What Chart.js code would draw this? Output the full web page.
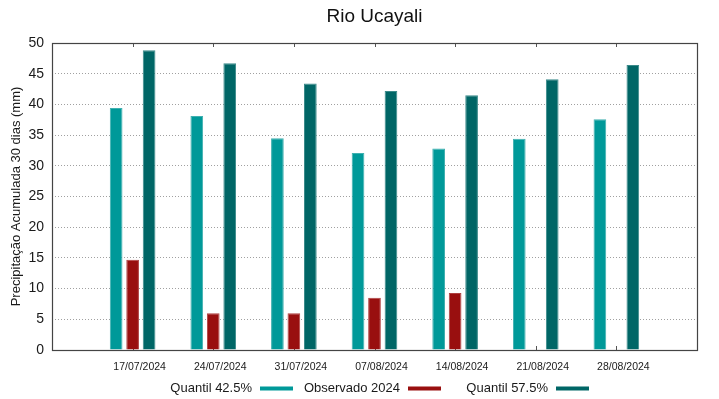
<!DOCTYPE html>
<html>
<head>
<meta charset="utf-8">
<script src="https://cdn.jsdelivr.net/npm/chart.js@4/dist/chart.umd.min.js"></script>
<style>
  html, body { margin: 0; padding: 0; background: #fff; }
  #wrap { width: 719px; height: 399px; position: relative; }
</style>
</head>
<body>
<div id="wrap"><canvas id="c"></canvas></div>
<script>
// ---- data ----
const chartTitle = "Rio Ucayali";
const yAxisTitle = "Precipitação Acumulada 30 dias (mm)";
const dates = ["17/07/2024", "24/07/2024", "31/07/2024", "07/08/2024", "14/08/2024", "21/08/2024", "28/08/2024"];
const quantil425 = [39.4, 38.1, 34.5, 32.1, 32.8, 34.4, 37.6];
const observado2024 = [14.7, 6.0, 6.0, 8.5, 9.3, null, null];
const quantil575 = [48.8, 46.7, 43.4, 42.2, 41.5, 44.1, 46.4];
const seriesNames = ["Quantil 42.5%", "Observado 2024", "Quantil 57.5%"];
const yTicks = [0, 5, 10, 15, 20, 25, 30, 35, 40, 45, 50];

const FONT = "'Liberation Sans', Arial, sans-serif";
const toPts = arr => arr.map((v, i) => ({ x: i, y: v }));

const frame = {
  id: 'frame',
  beforeDatasetsDraw(chart) {
    const { ctx, chartArea: a, scales: { x } } = chart;
    ctx.save();
    ctx.strokeStyle = '#555';
    ctx.lineWidth = 1;
    dates.forEach((d, i) => {
      const px = Math.round(x.getPixelForValue(i)) + 0.5;
      ctx.beginPath();
      ctx.moveTo(px, a.top); ctx.lineTo(px, a.top + 4);
      ctx.moveTo(px, a.bottom); ctx.lineTo(px, a.bottom - 4);
      ctx.stroke();
    });
    ctx.restore();
  },
  afterDatasetsDraw(chart) {
    const { ctx, chartArea: a } = chart;
    ctx.save();
    ctx.strokeStyle = '#444';
    ctx.lineWidth = 1.2;
    ctx.strokeRect(Math.round(a.left) + 0.5, Math.round(a.top) + 0.5,
                   Math.round(a.right - a.left), Math.round(a.bottom - a.top));
    ctx.restore();
  }
};

const legendBottom = {
  id: 'legendBottom',
  afterDraw(chart) {
    const { ctx } = chart;
    const firstBoxRight = 293, colStep = 148, boxW = 33, boxH = 4, gap = 8, yMid = 388.5;
    ctx.save();
    ctx.font = "13px " + FONT;
    ctx.textBaseline = 'middle';
    ctx.textAlign = 'right';
    chart.data.datasets.forEach((ds, i) => {
      const br = firstBoxRight + i * colStep;
      ctx.fillStyle = ds.backgroundColor;
      ctx.fillRect(br - boxW, yMid - boxH / 2, boxW, boxH);
      ctx.fillStyle = '#1a1a1a';
      ctx.fillText(ds.label, br - boxW - gap, yMid);
    });
    ctx.restore();
  }
};

new Chart(document.getElementById('c'), {
  type: 'bar',
  data: {
    datasets: [
      { label: seriesNames[0], data: toPts(quantil425), backgroundColor: '#009999', borderColor: '#3fb0b0', borderWidth: 1 },
      { label: seriesNames[1], data: toPts(observado2024), backgroundColor: '#990f0f', borderColor: '#b04040', borderWidth: 1 },
      { label: seriesNames[2], data: toPts(quantil575), backgroundColor: '#006666', borderColor: '#3a8a8a', borderWidth: 1 }
    ]
  },
  options: {
    responsive: true,
    maintainAspectRatio: false,
    animation: false,
    categoryPercentage: 0.613,
    barPercentage: 0.77,
    layout: { padding: { left: 0, right: 22, top: 0, bottom: 0 } },
    plugins: {
      legend: { display: false },
      tooltip: { enabled: false },
      title: {
        display: true, text: chartTitle, fullSize: false,
        color: '#111', font: { family: FONT, size: 19, weight: 'normal' },
        padding: { top: 5, bottom: 15.2 }
      }
    },
    scales: {
      x: {
        type: 'linear', min: -1, max: 7, offset: false,
        grid: { display: false, drawTicks: false, offset: false },
        border: { display: false },
        afterBuildTicks(scale) { scale.ticks = [-1, 0, 1, 2, 3, 4, 5, 6, 7].map(v => ({ value: v })); },
        afterFit(scale) { scale.height = 49; },
        ticks: {
          autoSkip: false, maxRotation: 0, padding: 11, labelOffset: 7,
          color: '#1a1a1a', font: { family: FONT, size: 10.5 },
          callback: v => (dates[v] !== undefined ? dates[v] : '')
        }
      },
      y: {
        min: 0, max: 50,
        afterBuildTicks(scale) { scale.ticks = yTicks.map(v => ({ value: v })); },
        afterFit(scale) { scale.width = 52; },
        grid: { color: '#a0a0a0', lineWidth: 1, drawTicks: false },
        border: { display: false, dash: [1, 2] },
        ticks: { padding: 8, color: '#1a1a1a', font: { family: FONT, size: 14 } },
        title: {
          display: true, text: yAxisTitle, color: '#1a1a1a',
          font: { family: FONT, size: 13 }, padding: { top: 9, bottom: 0 }
        }
      }
    }
  },
  plugins: [frame, legendBottom]
});
</script>
</body>
</html>
